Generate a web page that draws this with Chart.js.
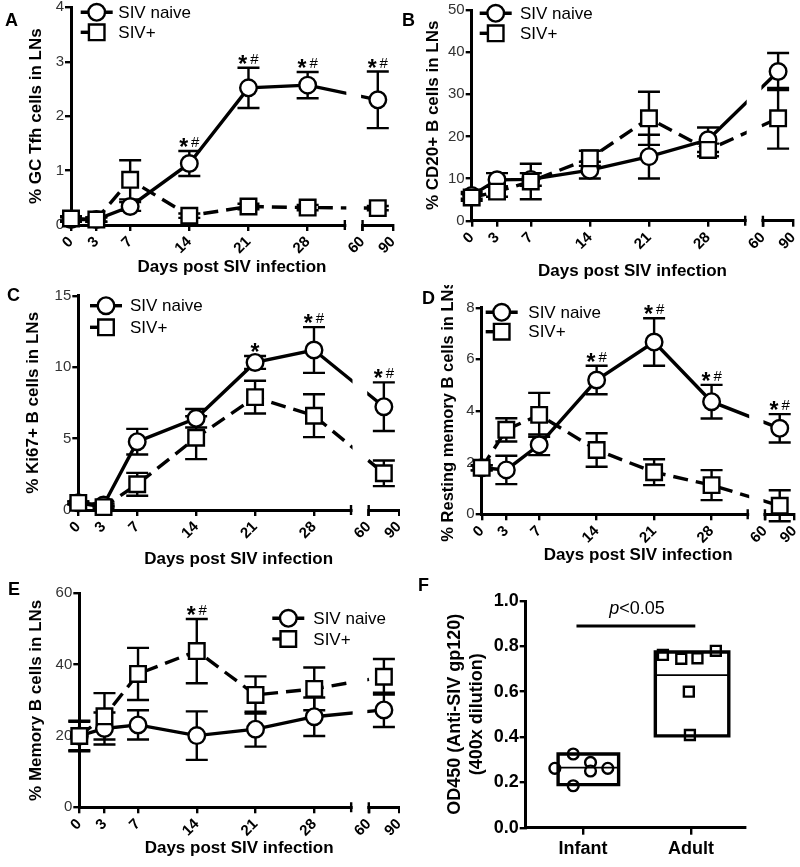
<!DOCTYPE html>
<html>
<head>
<meta charset="utf-8">
<script src="https://cdn.jsdelivr.net/npm/chart.js@4.4.1/dist/chart.umd.min.js"></script>
<style>
  body { margin: 0; background: #fff; width: 800px; height: 867px; position: relative; overflow: hidden; font-family: "Liberation Sans", Arial, sans-serif; }
  .panel { position: absolute; }
  .letter { position: absolute; font-weight: bold; font-size: 18px; line-height: 1; color: #000; }
</style>
</head>
<body>
<div class="panel" style="left:0;top:0;width:400px;height:285px"><canvas id="chartA"></canvas></div>
<div class="panel" style="left:400px;top:0;width:400px;height:285px"><canvas id="chartB"></canvas></div>
<div class="panel" style="left:0;top:285px;width:400px;height:290px"><canvas id="chartC"></canvas></div>
<div class="panel" style="left:400px;top:285px;width:400px;height:290px"><canvas id="chartD"></canvas></div>
<div class="panel" style="left:0;top:575px;width:400px;height:292px"><canvas id="chartE"></canvas></div>
<div class="panel" style="left:400px;top:575px;width:400px;height:292px"><canvas id="chartF"></canvas></div>
<div class="letter" style="left:5px;top:11px">A</div>
<div class="letter" style="left:402px;top:11px">B</div>
<div class="letter" style="left:7px;top:286px">C</div>
<div class="letter" style="left:422px;top:289px">D</div>
<div class="letter" style="left:8px;top:580px">E</div>
<div class="letter" style="left:418px;top:576px">F</div>

<script>
// sampling days (last point is the pooled day 60-90 sample)
const days = [0, 3, 7, 14, 21, 28, 75];
const tickDays = [0, 3, 7, 14, 21, 28, 60, 90];

// A - % GC Tfh cells in LNs
const tfhNaive = [0.1, 0.1, 0.34, 1.13, 2.52, 2.57, 2.3];
const tfhNaiveSem = [0.04, 0.04, 0.08, 0.23, 0.37, 0.24, 0.52];
const tfhPos = [0.12, 0.1, 0.83, 0.17, 0.34, 0.32, 0.31];
const tfhPosSem = [0.04, 0.04, 0.36, 0.04, 0.05, 0.05, 0.04];
const tfhSig = ["", "", "", "*#", "*#", "*#", "*#"];

// B - % CD20+ B cells in LNs
const cd20Naive = [6, 9.7, 9.8, 12.0, 15.2, 19.2, 35.4];
const cd20NaiveSem = [0.8, 1.6, 1.5, 2.0, 5.2, 2.9, 4.4];
const cd20Pos = [5.5, 6.9, 9.3, 14.8, 24.3, 16.8, 24.3];
const cd20PosSem = [0.8, 1.2, 4.2, 1.8, 6.3, 1.5, 7.2];
const cd20Sig = ["", "", "", "", "", "", ""];

// C - % Ki67+ B cells in LNs
const ki67Naive = [0.5, 0.35, 4.78, 6.42, 10.33, 11.2, 7.23];
const ki67NaiveSem = [0.1, 0.1, 0.9, 0.65, 0.45, 1.6, 1.7];
const ki67Pos = [0.5, 0.2, 1.8, 5.06, 7.9, 6.6, 2.57];
const ki67PosSem = [0.1, 0.1, 0.8, 1.5, 1.15, 1.5, 0.9];
const ki67Sig = ["", "", "", "", "*", "*#", "*#"];

// D - % Resting memory B cells in LNs
const restNaive = [1.8, 1.72, 2.69, 5.2, 6.67, 4.36, 3.33];
const restNaiveSem = [0.1, 0.55, 0.4, 0.55, 0.92, 0.65, 0.55];
const restPos = [1.8, 3.27, 3.85, 2.49, 1.63, 1.13, 0.33];
const restPosSem = [0.1, 0.45, 0.85, 0.65, 0.5, 0.58, 0.6];
const restSig = ["", "", "", "*#", "*#", "*#", "*#"];

// E - % Memory B cells in LNs
const memNaive = [20, 22.1, 23.1, 20.1, 21.9, 25.4, 27.3];
const memNaiveSem = [4.3, 4.5, 4.1, 6.8, 4.9, 5.4, 4.8];
const memPos = [20, 25.5, 37.4, 43.8, 31.5, 33.2, 36.6];
const memPosSem = [4, 6.5, 7.3, 9, 5.2, 6, 5];
const memSig = ["", "", "", "*#", "", "", ""];

// F - anti-SIV gp120 OD450
const groups = ["Infant", "Adult"];
const infantX = [0.74, 0.91, 0.91, 1.07, 1.07, 1.23];
const infantY = [0.262, 0.325, 0.185, 0.288, 0.25, 0.262];
const adultX = [1.74, 1.91, 2.06, 2.23, 1.98, 1.99];
const adultY = [0.762, 0.745, 0.747, 0.78, 0.60, 0.409];
const boxMin = [0.19, 0.405];
const boxMax = [0.325, 0.775];
const boxMed = [0.265, 0.673];

Chart.defaults.font.family = '"Liberation Sans", Arial, sans-serif';
Chart.defaults.color = "#000";

// broken x axis: 0-28 linear, then a short 60-90 segment
const BREAK_FROM = 32.4, BREAK_TO = 34.5, X_MAX = 38.1;
const xMap = d => d <= 28 ? d : BREAK_TO + (d - 60) / 30 * (X_MAX - BREAK_TO);

const errorBars = {
    id: "errorBars",
    beforeDatasetsDraw(chart) {
        const { ctx } = chart;
        const y = chart.scales.y;
        ctx.save();
        ctx.strokeStyle = "#000";
        ctx.lineWidth = 2.4;
        chart.data.datasets.forEach((ds, i) => {
            if (!ds.sem) return;
            chart.getDatasetMeta(i).data.forEach((pt, j) => {
                const v = ds.data[j].y, e = ds.sem[j];
                const top = y.getPixelForValue(v + e), bot = y.getPixelForValue(v - e);
                ctx.beginPath();
                ctx.moveTo(pt.x, top); ctx.lineTo(pt.x, bot);
                ctx.moveTo(pt.x - 11, top); ctx.lineTo(pt.x + 11, top);
                ctx.moveTo(pt.x - 11, bot); ctx.lineTo(pt.x + 11, bot);
                ctx.stroke();
            });
        });
        ctx.restore();
    }
};

const sigMarks = {
    id: "sigMarks",
    afterDatasetsDraw(chart, args, opts) {
        const { ctx } = chart;
        const { x, y } = chart.scales;
        const sets = chart.data.datasets;
        ctx.save();
        ctx.fillStyle = "#000";
        ctx.textBaseline = "alphabetic";
        (opts.marks || []).forEach((s, j) => {
            if (!s) return;
            let top = Infinity;
            sets.forEach(ds => { top = Math.min(top, y.getPixelForValue(ds.data[j].y + ds.sem[j])); });
            const cx = x.getPixelForValue(sets[0].data[j].x);
            const base = top - 4;
            ctx.font = 'bold 23px "Liberation Sans", Arial';
            const wStar = ctx.measureText("*").width;
            ctx.font = '15px "Liberation Sans", Arial';
            const wHash = s.includes("#") ? ctx.measureText("#").width + 3 : 0;
            const left = cx - (wStar + wHash) / 2;
            ctx.font = 'bold 23px "Liberation Sans", Arial';
            ctx.textAlign = "left";
            ctx.fillText("*", left, base + 8);
            if (wHash) {
                ctx.font = '15px "Liberation Sans", Arial';
                ctx.fillText("#", left + wStar + 3, base);
            }
        });
        ctx.restore();
    }
};

const axisBreak = {
    id: "axisBreak",
    afterDraw(chart, args, opts) {
        const { ctx, chartArea } = chart;
        const x = chart.scales.x;
        const b = chartArea.bottom;
        const x0 = x.getPixelForValue(BREAK_FROM), x1 = x.getPixelForValue(BREAK_TO);
        ctx.save();
        ctx.fillStyle = "#fff";
        ctx.fillRect(x0 + 1.5, chartArea.top - 2, x1 - x0 - 3, b - chartArea.top + 9);
        ctx.strokeStyle = "#000";
        ctx.lineWidth = 2.4;
        ctx.beginPath();
        ctx.moveTo(x0, b - 5); ctx.lineTo(x0, b + 5);
        ctx.moveTo(x1, b - 5); ctx.lineTo(x1, b + 6);
        ctx.stroke();
        ctx.restore();

        // legend: line + marker + label
        const lg = opts.legend;
        ctx.save();
        chart.data.datasets.forEach((ds, i) => {
            const ly = lg.y + i * lg.gap;
            ctx.strokeStyle = "#000";
            ctx.lineWidth = 3.4;
            ctx.beginPath();
            ctx.moveTo(lg.x - 16, ly);
            ctx.lineTo(ds.pointStyle === "circle" ? lg.x + 16 : lg.x, ly);
            ctx.stroke();
            ctx.fillStyle = "#fff";
            ctx.lineWidth = ds.pointBorderWidth;
            Chart.helpers.drawPoint(ctx, { pointStyle: ds.pointStyle, radius: ds.pointRadius, borderWidth: ds.pointBorderWidth, rotation: 0 }, lg.x, ly);
            ctx.fillStyle = "#000";
            ctx.font = '17px "Liberation Sans", Arial';
            ctx.textBaseline = "middle";
            ctx.textAlign = "left";
            ctx.fillText(ds.label, lg.tx, ly + 1);
        });
        // own y title when it is longer than the axis
        if (opts.yTitle) {
            const t = opts.yTitle;
            ctx.translate(t.x, (chartArea.top + chartArea.bottom) / 2);
            ctx.rotate(-Math.PI / 2);
            ctx.font = 'bold ' + t.size + 'px "Liberation Sans", Arial';
            ctx.textAlign = "center";
            ctx.textBaseline = "middle";
            ctx.fillStyle = "#000";
            ctx.fillText(t.text, 0, 0);
        }
        ctx.restore();
    }
};

function courseChart(id, p) {
    const pts = vals => vals.map((v, i) => ({ x: xMap(days[i]), y: v }));
    new Chart(document.getElementById(id), {
        type: "line",
        data: {
            datasets: [
                {
                    label: "SIV naive", data: pts(p.naive), sem: p.naiveSem, order: 1, clip: false,
                    borderColor: "#000", borderWidth: 3.4,
                    pointStyle: "circle", pointRadius: 8.3, pointBorderWidth: 2.4,
                    pointBackgroundColor: "#fff", pointBorderColor: "#000"
                },
                {
                    label: "SIV+", data: pts(p.pos), sem: p.posSem, order: 0, clip: false,
                    borderColor: "#000", borderWidth: 3.4, borderDash: [15, 8],
                    pointStyle: "rect", pointRadius: 11, pointBorderWidth: 2.4,
                    pointBackgroundColor: "#fff", pointBorderColor: "#000"
                }
            ]
        },
        options: {
            responsive: true,
            maintainAspectRatio: false,
            animation: false,
            events: [],
            layout: { padding: p.pad, autoPadding: false },
            plugins: {
                legend: { display: false },
                tooltip: { enabled: false },
                sigMarks: { marks: p.sig },
                axisBreak: { legend: p.legend, yTitle: p.ownTitle }
            },
            scales: {
                x: {
                    type: "linear", min: 0, max: X_MAX,
                    afterBuildTicks: s => { s.ticks = tickDays.map(d => ({ value: xMap(d) })); },
                    afterFit: s => { s.height = p.xh; s.paddingLeft = 0; s.paddingRight = 0; },
                    ticks: {
                        autoSkip: false, minRotation: 45, maxRotation: 45, padding: 2,
                        font: { size: 15, weight: "bold" },
                        callback: (v, i) => tickDays[i]
                    },
                    grid: { drawOnChartArea: false, tickLength: 6, color: "#000", lineWidth: 2.4 },
                    border: { color: "#000", width: 3 },
                    title: { display: true, text: "Days post SIV infection", padding: 0, font: { size: 17, weight: "bold" } }
                },
                y: {
                    min: 0, max: p.ymax,
                    afterFit: s => { s.width = p.yw; s.paddingTop = 0; s.paddingBottom = 0; },
                    ticks: { stepSize: p.step, padding: 1, color: "#333", font: { size: 15 } },
                    grid: { drawOnChartArea: false, tickLength: 6, color: "#000", lineWidth: 2.4 },
                    border: { color: "#000", width: 3 },
                    title: { display: !p.ownTitle, text: p.ytitle, padding: 0, font: { size: 17, weight: "bold" } }
                }
            }
        },
        plugins: [errorBars, sigMarks, axisBreak]
    });
}

courseChart("chartA", {
    naive: tfhNaive, naiveSem: tfhNaiveSem, pos: tfhPos, posSem: tfhPosSem, sig: tfhSig,
    ymax: 4, step: 1, ytitle: "% GC Tfh cells in LNs",
    pad: { left: 26.5, right: 7, top: 7.3, bottom: 7.8 }, yw: 44.5, xh: 52.2,
    legend: { x: 96.7, y: 12.3, gap: 20, tx: 118.3 }
});
courseChart("chartB", {
    naive: cd20Naive, naiveSem: cd20NaiveSem, pos: cd20Pos, posSem: cd20PosSem, sig: cd20Sig,
    ymax: 50, step: 10, ytitle: "% CD20+ B cells in LNs",
    pad: { left: 23.1, right: 6.7, top: 10, bottom: 3.1 }, yw: 48.6, xh: 61.2,
    legend: { x: 95.7, y: 13.3, gap: 20, tx: 120 }
});
courseChart("chartC", {
    naive: ki67Naive, naiveSem: ki67NaiveSem, pos: ki67Pos, posSem: ki67PosSem, sig: ki67Sig,
    ymax: 15, step: 5, ytitle: "% Ki67+ B cells in LNs",
    pad: { left: 23.1, right: 1, top: 10.7, bottom: 5.8 }, yw: 55.2, xh: 59.2,
    legend: { x: 106, y: 20.7, gap: 21.6, tx: 130 }
});
courseChart("chartD", {
    naive: restNaive, naiveSem: restNaiveSem, pos: restPos, posSem: restPosSem, sig: restSig,
    ymax: 8, step: 2, ytitle: "% Resting memory B cells in LNs",
    ownTitle: { x: 48.3, size: 16.5, text: "% Resting memory B cells in LNs" },
    pad: { left: 38.1, right: 5.5, top: 22.7, bottom: 9.1 }, yw: 43.6, xh: 51.6,
    legend: { x: 101.7, y: 27.3, gap: 19.4, tx: 128.3 }
});
courseChart("chartE", {
    naive: memNaive, naiveSem: memNaiveSem, pos: memPos, posSem: memPosSem, sig: memSig,
    ymax: 60, step: 20, ytitle: "% Memory B cells in LNs",
    pad: { left: 26.5, right: 1, top: 18.3, bottom: 8.5 }, yw: 52.8, xh: 51.2,
    legend: { x: 288.3, y: 43.3, gap: 20.7, tx: 313.3 }
});

// F - box (min to max, line at median) with individual animals
const boxCenter = [1.05, 2.01];
const boxHalf = [0.28, 0.34];
const boxPath = g => {
    const c = boxCenter[g], h = boxHalf[g];
    return [[c - h, boxMin[g]], [c + h, boxMin[g]], [c + h, boxMax[g]], [c - h, boxMax[g]], [c - h, boxMin[g]], [c + h, boxMin[g]]]
        .map(([x, y]) => ({ x, y }));
};
const medPath = g => [{ x: boxCenter[g] - boxHalf[g], y: boxMed[g] }, { x: boxCenter[g] + boxHalf[g], y: boxMed[g] }];

const pValue = {
    id: "pValue",
    afterDraw(chart) {
        const { ctx } = chart;
        const { x, y } = chart.scales;
        const yl = y.getPixelForValue(0.89);
        ctx.save();
        ctx.strokeStyle = "#000";
        ctx.lineWidth = 3;
        ctx.beginPath();
        ctx.moveTo(x.getPixelForValue(0.94), yl);
        ctx.lineTo(x.getPixelForValue(2.04), yl);
        ctx.stroke();
        ctx.fillStyle = "#000";
        ctx.textBaseline = "middle";
        ctx.font = 'italic 18px "Liberation Sans", Arial';
        const wp = ctx.measureText("p").width;
        ctx.font = '18px "Liberation Sans", Arial';
        const wr = ctx.measureText("<0.05").width;
        const left = x.getPixelForValue(1.5) - (wp + wr) / 2;
        ctx.textAlign = "left";
        ctx.font = 'italic 18px "Liberation Sans", Arial';
        ctx.fillText("p", left, yl - 17);
        ctx.font = '18px "Liberation Sans", Arial';
        ctx.fillText("<0.05", left + wp, yl - 17);
        ctx.restore();
    }
};

const boxStyle = { type: "line", showLine: true, borderColor: "#000", borderWidth: 3.4, pointRadius: 0, fill: false, borderJoinStyle: "miter" };
const medStyle = { type: "line", showLine: true, borderColor: "#000", borderWidth: 1.8, pointRadius: 0, fill: false };

new Chart(document.getElementById("chartF"), {
    type: "scatter",
    data: {
        datasets: [
            { ...boxStyle, data: boxPath(0) },
            { ...boxStyle, data: boxPath(1) },
            { ...medStyle, data: medPath(0) },
            { ...medStyle, data: medPath(1) },
            {
                data: infantX.map((x, i) => ({ x, y: infantY[i] })),
                pointStyle: "circle", pointRadius: 5.4, pointBorderWidth: 2.4,
                pointBackgroundColor: "#fff", pointBorderColor: "#000"
            },
            {
                data: adultX.map((x, i) => ({ x, y: adultY[i] })),
                pointStyle: "rect", pointRadius: 7, pointBorderWidth: 2.4,
                pointBackgroundColor: "#fff", pointBorderColor: "#000"
            }
        ]
    },
    options: {
        responsive: true,
        maintainAspectRatio: false,
        animation: false,
        events: [],
        layout: { padding: { left: 44.2, right: 55, top: 26, bottom: 4.3 }, autoPadding: false },
        plugins: { legend: { display: false }, tooltip: { enabled: false } },
        scales: {
            x: {
                type: "linear", min: 0.47, max: 2.5,
                afterBuildTicks: s => { s.ticks = groups.map((g, i) => ({ value: i + 1 })); },
                afterFit: s => { s.height = 35; s.paddingLeft = 0; s.paddingRight = 0; },
                ticks: { autoSkip: false, maxRotation: 0, padding: 4, font: { size: 18, weight: "bold" }, callback: (v, i) => groups[i] },
                grid: { drawOnChartArea: false, tickLength: 7, color: "#000", lineWidth: 2.4 },
                border: { color: "#000", width: 3 }
            },
            y: {
                min: 0, max: 1,
                afterFit: s => { s.width = 81.5; s.paddingTop = 0; s.paddingBottom = 0; },
                ticks: { stepSize: 0.2, padding: 1, font: { size: 18, weight: "bold" }, callback: v => v.toFixed(1) },
                grid: { drawOnChartArea: false, tickLength: 6, color: "#000", lineWidth: 2.4 },
                border: { color: "#000", width: 3 },
                title: { display: true, text: ["OD450 (Anti-SIV gp120)", "(400x dilution)"], padding: 0, font: { size: 18, weight: "bold" } }
            }
        }
    },
    plugins: [pValue]
});
</script>
</body>
</html>
